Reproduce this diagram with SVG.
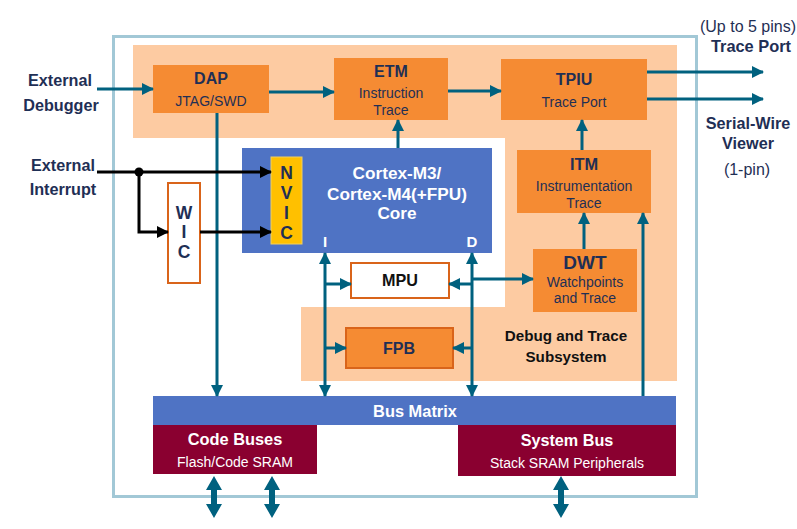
<svg xmlns="http://www.w3.org/2000/svg" width="797" height="529" viewBox="0 0 797 529">
<defs>
<marker id="ah" markerUnits="userSpaceOnUse" markerWidth="12" markerHeight="12" refX="11" refY="6" orient="auto">
<path d="M0,0 L12,6 L0,12 Z" fill="#00617f"/>
</marker>
<marker id="ahs" markerUnits="userSpaceOnUse" markerWidth="12" markerHeight="12" refX="1" refY="6" orient="auto">
<path d="M12,0 L0,6 L12,12 Z" fill="#00617f"/>
</marker>
<marker id="ak" markerUnits="userSpaceOnUse" markerWidth="12" markerHeight="12" refX="11" refY="6" orient="auto">
<path d="M0,0 L12,6 L0,12 Z" fill="#000"/>
</marker>
</defs>
<style>
text{font-family:"Liberation Sans",Arial,sans-serif;text-anchor:middle}
.b{font-weight:bold}
.navy{fill:#1f2f55}
.wh{fill:#fff}
.orange{fill:#f58b33}
.c{fill:none;stroke:#00617f;stroke-width:3}
.k{fill:none;stroke:#000;stroke-width:3}
.big{fill:#00617f}
</style>
<rect width="797" height="529" fill="#fff"/>
<g id="frame">
<rect x="113.5" y="36.5" width="583" height="460" fill="none" stroke="#a2c8d6" stroke-width="3"/>
</g>
<g id="debug-subsystem">
<path d="M133,45 H677 V381 H301 V307 H505 V138 H133 Z" fill="#fdcba2"/>
<text class="b" x="566" y="341" font-size="15.2" fill="#111">Debug and Trace</text>
<text class="b" x="566" y="362" font-size="15.2" fill="#111">Subsystem</text>
</g>
<g id="dap">
<rect class="orange" x="153" y="65" width="116" height="48"/>
<text class="b navy" x="211" y="84" font-size="16">DAP</text>
<text class="navy" x="211" y="106" font-size="14">JTAG/SWD</text>
</g>
<g id="etm">
<rect class="orange" x="334" y="58" width="114" height="62"/>
<text class="b navy" x="391" y="77" font-size="16">ETM</text>
<text class="navy" x="391" y="98" font-size="14">Instruction</text>
<text class="navy" x="391" y="115" font-size="14">Trace</text>
</g>
<g id="tpiu">
<rect class="orange" x="501" y="59" width="146" height="61"/>
<text class="b navy" x="574" y="85" font-size="16">TPIU</text>
<text class="navy" x="574" y="107" font-size="14">Trace Port</text>
</g>
<g id="itm">
<rect class="orange" x="517" y="150" width="134" height="63"/>
<text class="b navy" x="584" y="170" font-size="16.4">ITM</text>
<text class="navy" x="584" y="191" font-size="14">Instrumentation</text>
<text class="navy" x="584" y="208" font-size="14">Trace</text>
</g>
<g id="dwt">
<rect class="orange" x="533" y="249" width="104" height="63"/>
<text class="b navy" x="585" y="269" font-size="19">DWT</text>
<text class="navy" x="585" y="287" font-size="14">Watchpoints</text>
<text class="navy" x="585" y="303" font-size="14">and Trace</text>
</g>
<g id="core">
<rect x="242" y="148" width="250" height="105" fill="#4f73c4"/>
<text class="b wh" x="397" y="179" font-size="17.2">Cortex-M3/</text>
<text class="b wh" x="397" y="199.5" font-size="17.2">Cortex-M4(+FPU)</text>
<text class="b wh" x="397" y="219" font-size="17.2">Core</text>
<text class="b wh" x="325" y="247" font-size="15">I</text>
<text class="b wh" x="472" y="247" font-size="15">D</text>
</g>
<g id="nvic">
<rect x="271" y="157" width="31" height="87" fill="#ffc000" stroke="#f0d060" stroke-width="1"/>
<text class="b navy" x="286.5" y="179" font-size="17.5">N</text>
<text class="b navy" x="286.5" y="199" font-size="17.5">V</text>
<text class="b navy" x="286.5" y="219" font-size="17.5">I</text>
<text class="b navy" x="286.5" y="239" font-size="17.5">C</text>
</g>
<g id="wic">
<rect x="168" y="183" width="32" height="100" fill="#fff" stroke="#d9641a" stroke-width="2"/>
<text class="b navy" x="184" y="219" font-size="17.5">W</text>
<text class="b navy" x="184" y="238" font-size="17.5">I</text>
<text class="b navy" x="184" y="258" font-size="17.5">C</text>
</g>
<g id="mpu">
<rect x="351" y="263" width="98" height="35" fill="#fff" stroke="#d9641a" stroke-width="2"/>
<text class="b" x="400" y="286" font-size="16.2" fill="#111">MPU</text>
</g>
<g id="fpb">
<rect x="346" y="328" width="107" height="40" fill="#f58b33" stroke="#d9641a" stroke-width="2"/>
<text class="b navy" x="399" y="354" font-size="16">FPB</text>
</g>
<g id="bus-matrix">
<rect x="153" y="396" width="523" height="29" fill="#4f73c4"/>
<text class="b wh" x="415" y="417" font-size="16.4">Bus Matrix</text>
</g>
<g id="code-buses">
<rect x="153" y="425" width="164" height="49" fill="#8a0030"/>
<text class="b wh" x="235" y="445" font-size="16.4">Code Buses</text>
<text class="wh" x="235" y="467" font-size="14">Flash/Code SRAM</text>
</g>
<g id="system-bus">
<rect x="458" y="425" width="218" height="51" fill="#8a0030"/>
<text class="b wh" x="567" y="446" font-size="16.2">System Bus</text>
<text class="wh" x="567" y="468" font-size="14">Stack SRAM Peripherals</text>
</g>
<g id="labels">
<text class="b navy" x="60" y="86" font-size="16.2">External</text>
<text class="b navy" x="61" y="111" font-size="16.2">Debugger</text>
<text class="b navy" x="63" y="171" font-size="16.2">External</text>
<text class="b navy" x="63" y="195" font-size="16.2">Interrupt</text>
<text class="navy" x="748" y="32" font-size="16">(Up to 5 pins)</text>
<text class="b navy" x="751" y="52" font-size="16.4">Trace Port</text>
<text class="b navy" x="748" y="129" font-size="16.2">Serial-Wire</text>
<text class="b navy" x="748" y="149" font-size="16.2">Viewer</text>
<text class="navy" x="747" y="175" font-size="16">(1-pin)</text>
</g>
<g id="connectors">
<path class="c" d="M97,89 H153" marker-end="url(#ah)"/>
<path class="c" d="M269,92 H334" marker-end="url(#ah)"/>
<path class="c" d="M448,91 H501" marker-end="url(#ah)"/>
<path class="c" d="M647,72 H763" marker-end="url(#ah)"/>
<path class="c" d="M647,99 H763" marker-end="url(#ah)"/>
<path class="c" d="M217,113 V396" marker-end="url(#ah)"/>
<path class="c" d="M398,148 V120" marker-end="url(#ah)"/>
<path class="c" d="M582,150 V120" marker-end="url(#ah)"/>
<path class="c" d="M584,249 V213" marker-end="url(#ah)"/>
<path class="c" d="M643,396 V213" marker-end="url(#ah)"/>
<path class="c" d="M325,253 V396" marker-start="url(#ahs)" marker-end="url(#ah)"/>
<path class="c" d="M325,284 H351" marker-end="url(#ah)"/>
<path class="c" d="M325,348 H346" marker-end="url(#ah)"/>
<path class="c" d="M472,253 V396" marker-start="url(#ahs)" marker-end="url(#ah)"/>
<path class="c" d="M472,284 H449" marker-end="url(#ah)"/>
<path class="c" d="M472,348 H453" marker-end="url(#ah)"/>
<path class="c" d="M472,279 H533" marker-end="url(#ah)"/>
<path class="k" d="M97,172 H271" marker-end="url(#ak)"/>
<circle cx="139" cy="172" r="4.5" fill="#000"/>
<path class="k" d="M139,172 V232 H168" marker-end="url(#ak)"/>
<path class="k" d="M200,232 H271" marker-end="url(#ak)"/>
<path class="big" d="M214,476 L222,490 H217 V504 H222 L214,518 L206,504 H211 V490 H206 Z"/>
<path class="big" d="M272,476 L280,490 H275 V504 H280 L272,518 L264,504 H269 V490 H264 Z"/>
<path class="big" d="M561,476 L569,490 H564 V504 H569 L561,518 L553,504 H558 V490 H553 Z"/>
</g>
</svg>
